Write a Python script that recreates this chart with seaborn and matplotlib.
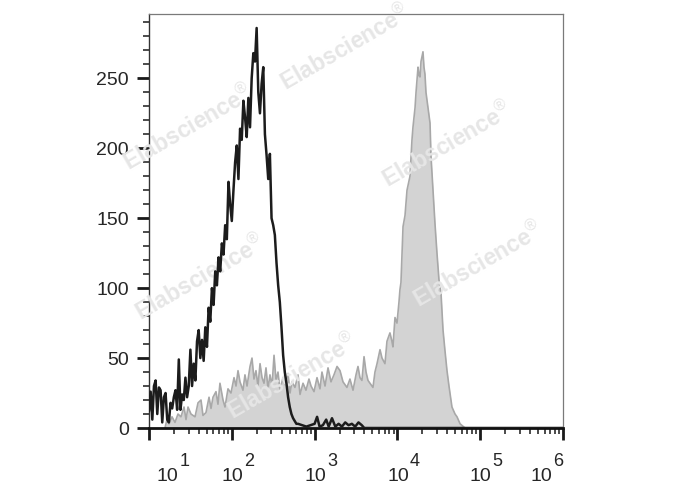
import numpy as np
import pandas as pd
import seaborn as sns
import matplotlib.pyplot as plt
from matplotlib.ticker import MultipleLocator, LogLocator, NullFormatter

# isotype control (black line): log10 intensity, count
ctrl_log = [1.00, 1.02, 1.04, 1.06, 1.08, 1.10, 1.12, 1.14, 1.16, 1.18,
            1.20, 1.22, 1.24, 1.26, 1.28, 1.30, 1.32, 1.34, 1.36, 1.38,
            1.40, 1.42, 1.44, 1.46, 1.48, 1.50, 1.52, 1.54, 1.56, 1.58,
            1.60, 1.62, 1.64, 1.66, 1.68, 1.70, 1.72, 1.74, 1.76, 1.78,
            1.80, 1.82, 1.84, 1.86, 1.88, 1.90, 1.92, 1.94, 1.96, 1.98,
            2.00, 2.02, 2.04, 2.06, 2.08, 2.10, 2.12, 2.14, 2.16, 2.18,
            2.20, 2.22, 2.24, 2.26, 2.28, 2.30, 2.32, 2.34, 2.36, 2.38,
            2.40, 2.42, 2.44, 2.46, 2.48, 2.50, 2.52, 2.54, 2.56, 2.58,
            2.60, 2.62, 2.64, 2.66, 2.68, 2.70, 2.72, 2.74, 2.76, 2.78,
            2.80, 2.85, 2.90, 2.95, 3.00, 3.03, 3.06, 3.10, 3.14, 3.17,
            3.21, 3.25, 3.29, 3.33, 3.37, 3.41, 3.45, 3.49, 3.53, 3.57,
            3.60, 6.00]
ctrl_count = [12, 26, 6, 30, 34, 10, 29, 27, 4, 22,
              25, 6, 4, 18, 14, 22, 27, 13, 49, 13,
              24, 20, 36, 22, 30, 56, 30, 46, 34, 62,
              70, 50, 63, 48, 72, 58, 86, 76, 100, 88,
              112, 102, 122, 112, 132, 124, 145, 135, 176, 160,
              148, 170, 190, 202, 178, 214, 206, 234, 222, 208,
              236, 215, 250, 268, 262, 286, 240, 225, 246, 258,
              210, 195, 178, 196, 150, 145, 138, 118, 102, 90,
              72, 52, 40, 32, 22, 15, 10, 7, 5, 3,
              3, 2, 1, 2, 3, 8, 1, 2, 6, 1,
              7, 1, 3, 1, 4, 2, 3, 1, 4, 2,
              0, 0]

# stained sample (grey filled)
stain_log = [1.193, 1.217, 1.242, 1.278, 1.314, 1.350, 1.386, 1.423, 1.447, 1.471,
             1.507, 1.556, 1.592, 1.628, 1.652, 1.688, 1.725, 1.749, 1.773, 1.809,
             1.833, 1.857, 1.894, 1.918, 1.954, 1.990, 2.027, 2.051, 2.075, 2.099,
             2.135, 2.159, 2.184, 2.220, 2.244, 2.268, 2.292, 2.316, 2.341, 2.365,
             2.389, 2.413, 2.437, 2.461, 2.486, 2.510, 2.534, 2.558, 2.582, 2.618,
             2.643, 2.679, 2.703, 2.727, 2.763, 2.800, 2.824, 2.860, 2.896, 2.932,
             2.957, 2.993, 3.029, 3.065, 3.089, 3.126, 3.162, 3.198, 3.234, 3.271,
             3.307, 3.343, 3.391, 3.427, 3.464, 3.500, 3.524, 3.548, 3.572, 3.597,
             3.621, 3.645, 3.681, 3.705, 3.729, 3.754, 3.790, 3.814, 3.850, 3.874,
             3.910, 3.934, 3.946, 3.971, 3.995, 4.019, 4.031, 4.043, 4.068, 4.092,
             4.116, 4.152, 4.176, 4.188, 4.213, 4.225, 4.249, 4.261, 4.273, 4.285,
             4.309, 4.321, 4.333, 4.345, 4.370, 4.394, 4.406, 4.430, 4.454, 4.478,
             4.502, 4.527, 4.551, 4.575, 4.599, 4.623, 4.659, 4.696, 4.720, 4.757,
             4.817, 6.000]
stain_count = [0, 6, 3, 8, 4, 10, 8, 15, 6, 15,
               10, 8, 18, 20, 9, 11, 22, 14, 22, 26,
               17, 32, 20, 15, 28, 25, 36, 30, 41, 33,
               27, 38, 30, 44, 50, 35, 41, 30, 46, 36,
               32, 43, 28, 38, 30, 52, 34, 40, 27, 36,
               31, 39, 25, 33, 29, 38, 24, 32, 27, 35,
               30, 26, 36, 28, 40, 30, 43, 33, 38, 44,
               41, 33, 29, 35, 27, 38, 44, 36, 34, 51,
               40, 34, 31, 29, 40, 46, 56, 50, 46, 62,
               68, 62, 58, 79, 75, 90, 99, 104, 144, 152,
               170, 180, 206, 215, 229, 240, 258, 252, 251, 262,
               269, 258, 253, 240, 229, 218, 194, 170, 146, 125,
               106, 96, 70, 55, 41, 30, 15, 10, 8, 3,
               0, 0]

decades = [1, 2, 3, 4, 5, 6]
y_ticks = [0, 50, 100, 150, 200, 250]
watermark = "Elabscience"
wm_pos = [(345, 48), (188, 128), (447, 145), (200, 278), (478, 265), (292, 377)]

sns.set_style("ticks")
plt.rcParams['font.family'] = ['Liberation Sans', 'DejaVu Sans']
plt.rcParams['mathtext.fontset'] = 'custom'
plt.rcParams['mathtext.rm'] = 'Liberation Sans'

ctrl = pd.DataFrame({"x": 10 ** np.array(ctrl_log), "count": ctrl_count})
stain = pd.DataFrame({"x": 10 ** np.array(stain_log), "count": stain_count})

fig = plt.figure(figsize=(6.88, 4.90), dpi=100)
ax = fig.add_axes([149 / 688, 62 / 490, 414 / 688, 414 / 490])

ax.fill_between(stain["x"], 0, stain["count"], color="#d3d3d3", lw=0, zorder=1)
sns.lineplot(data=stain, x="x", y="count", ax=ax, color="#a8a8a8", linewidth=1.2,
             estimator=None, sort=False, zorder=2)
sns.lineplot(data=ctrl, x="x", y="count", ax=ax, color="#1c1c1c", linewidth=1.8,
             estimator=None, sort=False, zorder=4)

# watermark
for (px, py) in wm_pos:
    ax.text(px / 688, 1 - py / 490, watermark + r"$^{\circledR}$", transform=fig.transFigure,
            rotation=30, ha="center", va="center", fontsize=16.5, fontweight="bold",
            color="#e6e6e6", zorder=3, clip_on=False)

ax.set_xscale("log")
ax.set_xlim(10, 1e6)
ax.set_ylim(0, 296)
ax.set_xlabel("")
ax.set_ylabel("")

ax.set_yticks(y_ticks)
ax.yaxis.set_minor_locator(MultipleLocator(10))
ax.xaxis.set_major_locator(LogLocator(base=10, numticks=10))
ax.xaxis.set_minor_locator(LogLocator(base=10, subs=np.arange(2, 10), numticks=20))
ax.xaxis.set_minor_formatter(NullFormatter())
ax.tick_params(axis="both", which="major", length=8.5, width=2, color="#1a1a1a")
ax.tick_params(axis="both", which="minor", length=4.5, width=1.1, color="#1a1a1a")
ax.tick_params(axis="y", labelsize=14, pad=6)
ax.tick_params(axis="x", labelbottom=False)

for s in ["top", "right"]:
    ax.spines[s].set_color("#7a7a7a")
    ax.spines[s].set_linewidth(0.9)
ax.spines["left"].set_color("#333333")
ax.spines["left"].set_linewidth(1.0)
ax.spines["bottom"].set_color("#111111")
ax.spines["bottom"].set_linewidth(2.0)

# x tick labels drawn as 10 with a large exponent, kept inside the axis span
shift = {1: 18.5, 6: -21.5}
for d in decades:
    dx = shift.get(d, 0.5) * 0.72
    ax.annotate("10", xy=(10 ** d, 0), xycoords=("data", "axes fraction"),
                xytext=(dx, -48.5 * 0.72), textcoords="offset points",
                ha="center", va="center", fontsize=14, annotation_clip=False)
    ax.annotate(str(d), xy=(10 ** d, 0), xycoords=("data", "axes fraction"),
                xytext=(dx + 17 * 0.72, -33 * 0.72), textcoords="offset points",
                ha="center", va="center", fontsize=13, annotation_clip=False)

plt.savefig("out.png", dpi=100)
